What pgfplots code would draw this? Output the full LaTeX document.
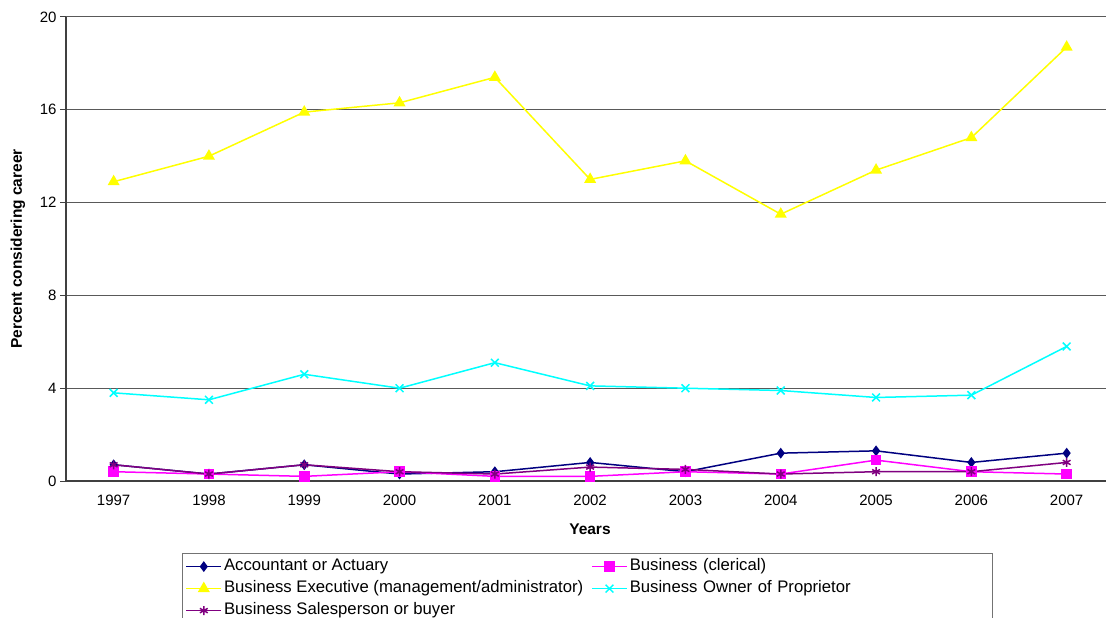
\documentclass[border=0pt]{standalone}
\usepackage{pgfplots}
\pgfplotsset{compat=1.18}
\usepackage{fontspec}
\setmainfont{Liberation Sans}
\definecolor{cNavy}{RGB}{0,0,128}
\definecolor{cMag}{RGB}{255,0,255}
\definecolor{cYel}{RGB}{255,255,0}
\definecolor{cCyan}{RGB}{0,255,255}
\definecolor{cPurp}{RGB}{128,0,128}
\begin{document}
\begin{tikzpicture}
\begin{axis}[
  name=ax,
  scale only axis,
  width=1040pt, height=464pt,
  xmin=1996.5, xmax=2007.413,
  ymin=0, ymax=20,
  ytick={0,4,8,12,16,20},
  xtick={1997,1998,1999,2000,2001,2002,2003,2004,2005,2006,2007},
  /pgf/number format/1000 sep={},
  /pgf/number format/assume math mode=true,
  x tick style={draw=none},
  extra x ticks={1996.5,1997.5,1998.5,1999.5,2000.5,2001.5,2002.5,2003.5,2004.5,2005.5,2006.5},
  extra x tick labels={},
  extra x tick style={tick align=outside, major tick length=5pt, tick style={draw=black!75, line width=1pt}},
  y tick style={draw=black!75, line width=1pt},
  tick align=outside,
  major tick length=6pt,
  axis x line*=bottom,
  axis y line*=left,
  axis line style={draw=black!75, line width=1.2pt},
  ymajorgrids,
  grid style={draw=black!65, line width=1pt},
  tick label style={font=\fontsize{15}{17}\selectfont},
  x tick label style={yshift=-4pt},
  xlabel={Years},
  ylabel={Percent considering career},
  xlabel style={font=\fontsize{15.5}{18}\selectfont\bfseries, at={(axis description cs:0.5038,-0.1034)}, anchor=center},
  ylabel style={font=\fontsize{15.5}{18}\selectfont\bfseries, at={(axis description cs:-0.0462,0.5)}, anchor=center},
  clip=false,
  every axis plot/.append style={line width=1.5pt},
  legend columns=2,
  legend cell align=left,
  legend style={
    at={(axis description cs:0.1115,-0.1552)}, anchor=north west,
    draw=black!55, line width=1.2pt,
    font=\fontsize{16.7}{19}\selectfont,
    inner xsep=3pt, inner ysep=2pt,
    nodes={inner xsep=2pt, inner ysep=3pt, text height=12pt, text depth=4pt},
    /tikz/every even column/.append style={column sep=6pt},
    /tikz/column 4/.style={every node/.append style={text width=358pt}},
  },
  legend image code/.code={
    \draw[mark repeat=2,mark phase=2] plot coordinates {(0pt,0pt) (17.5pt,0pt) (35pt,0pt)};
  },
]
\addplot[color=cNavy, mark=diamond*, mark size=4.2pt, mark options={solid}] coordinates {
(1997,0.7) (1998,0.3) (1999,0.7) (2000,0.3) (2001,0.4) (2002,0.8) (2003,0.4) (2004,1.2) (2005,1.3) (2006,0.8) (2007,1.2)};
\addlegendentry{Accountant or Actuary}
\addplot[color=cMag, mark=square*, mark size=4.5pt] coordinates {
(1997,0.4) (1998,0.3) (1999,0.2) (2000,0.4) (2001,0.2) (2002,0.2) (2003,0.4) (2004,0.3) (2005,0.9) (2006,0.4) (2007,0.3)};
\addlegendentry{Business (clerical)}
\addplot[color=cYel, mark=triangle*, mark size=5.5pt] coordinates {
(1997,12.9) (1998,14.0) (1999,15.9) (2000,16.3) (2001,17.4) (2002,13.0) (2003,13.8) (2004,11.5) (2005,13.4) (2006,14.8) (2007,18.7)};
\addlegendentry{Business Executive (management/administrator)}
\addplot[color=cCyan, mark=x, mark size=5.5pt] coordinates {
(1997,3.8) (1998,3.5) (1999,4.6) (2000,4.0) (2001,5.1) (2002,4.1) (2003,4.0) (2004,3.9) (2005,3.6) (2006,3.7) (2007,5.8)};
\addlegendentry{Business Owner of Proprietor}
\addplot[color=cPurp, mark=asterisk, mark size=4.5pt] coordinates {
(1997,0.7) (1998,0.3) (1999,0.7) (2000,0.4) (2001,0.3) (2002,0.6) (2003,0.5) (2004,0.3) (2005,0.4) (2006,0.4) (2007,0.8)};
\addlegendentry{Business Salesperson or buyer}
\end{axis}
\pgfresetboundingbox
\useasboundingbox (ax.south west) ++(-66pt,-137pt) rectangle ++(1106pt,618pt);
\end{tikzpicture}
\end{document}
